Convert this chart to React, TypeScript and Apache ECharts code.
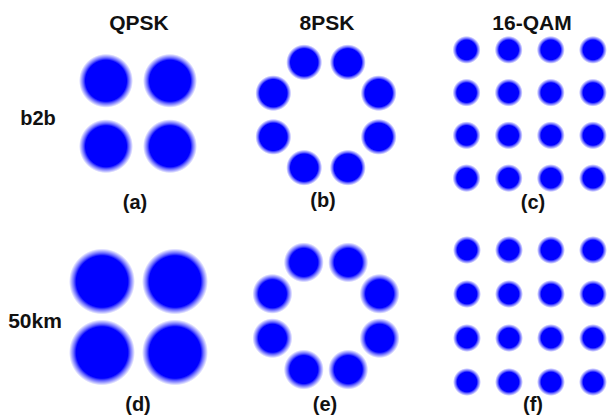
import React, { useEffect, useRef } from "react";
import * as echarts from "echarts";

// Constellation symbol positions (in-phase / quadrature)
const qpskPoints: [number, number][] = [
  [-1, 1], [1, 1], [-1, -1], [1, -1],
];
const psk8Points: [number, number][] = [
  [-0.383, 0.924], [0.383, 0.924], [0.924, 0.383], [0.924, -0.383],
  [0.383, -0.924], [-0.383, -0.924], [-0.924, -0.383], [-0.924, 0.383],
];
const qamLevels = [-3, -1, 1, 3];
const qam16Points: [number, number][] = qamLevels.flatMap((q) =>
  qamLevels.map((i) => [i, -q] as [number, number])
);

const formatTitles = ["QPSK", "8PSK", "16-QAM"];
const distanceLabels = ["b2b", "50km"];
const panelTags = ["(a)", "(b)", "(c)", "(d)", "(e)", "(f)"];

const BLUE = "#0000ff";
const FONT = "'Liberation Sans', Arial, sans-serif";

// Fuzzy cloud fill: dense core fading out to a sparse rim
const cloudFill = (core: number) => ({
  type: "radial",
  x: 0.5,
  y: 0.5,
  r: 0.5,
  colorStops: [
    { offset: 0, color: BLUE },
    { offset: core, color: BLUE },
    { offset: core + (1 - core) * 0.35, color: "rgba(0,0,255,0.6)" },
    { offset: 1, color: "rgba(0,0,255,0)" },
  ],
});

type Panel = {
  points: [number, number][];
  range: number;
  grid: { left: number; top: number; width: number; height: number };
  size: number;
  core: number;
};

const panels: Panel[] = [
  { points: qpskPoints, range: 2, grid: { left: 74, top: 48, width: 128, height: 131 }, size: 54, core: 0.76 },
  { points: psk8Points, range: 1.5, grid: { left: 240.5, top: 29.5, width: 171, height: 171 }, size: 36, core: 0.76 },
  { points: qam16Points, range: 4, grid: { left: 445.5, top: 28.5, width: 171, height: 171 }, size: 28, core: 0.7 },
  { points: qpskPoints, range: 2, grid: { left: 65.5, top: 246, width: 146, height: 142 }, size: 66, core: 0.78 },
  { points: psk8Points, range: 1.5, grid: { left: 239, top: 229, width: 174, height: 174 }, size: 40, core: 0.7 },
  { points: qam16Points, range: 4, grid: { left: 446, top: 228, width: 175, height: 176 }, size: 28, core: 0.7 },
];

const tagPos: [number, number][] = [
  [135, 202], [323, 200], [533, 202],
  [138, 404], [325, 404], [533, 404],
];

export default function App() {
  const ref = useRef<HTMLDivElement>(null);

  useEffect(() => {
    if (!ref.current) return;
    const chart = echarts.init(ref.current, undefined, { renderer: "svg" });

    const hiddenAxis = (range: number, gridIndex: number) => ({
      type: "value",
      gridIndex,
      min: -range,
      max: range,
      show: false,
    });

    const text = (t: string, x: number, y: number, size = 21) => ({
      type: "text",
      x,
      y,
      style: {
        text: t,
        fill: "#111",
        font: `bold ${size}px ${FONT}`,
        textAlign: "center",
        textVerticalAlign: "middle",
      },
    });

    const option = {
      animation: false,
      backgroundColor: "#ffffff",
      grid: panels.map((p) => ({ ...p.grid, containLabel: false })),
      xAxis: panels.map((p, i) => hiddenAxis(p.range, i)),
      yAxis: panels.map((p, i) => hiddenAxis(p.range, i)),
      series: panels.map((p, i) => ({
        type: "scatter",
        xAxisIndex: i,
        yAxisIndex: i,
        data: p.points,
        symbol: "circle",
        symbolSize: p.size,
        clip: false,
        silent: true,
        itemStyle: { color: cloudFill(p.core), opacity: 1 },
      })),
      graphic: [
        text(formatTitles[0], 139, 22),
        text(formatTitles[1], 327, 22),
        text(formatTitles[2], 532, 22),
        text(distanceLabels[0], 38, 118, 20),
        text(distanceLabels[1], 35, 320),
        ...panelTags.map((t, i) => text(t, tagPos[i][0], tagPos[i][1], 20)),
      ],
    };

    chart.setOption(option as any);
    return () => chart.dispose();
  }, []);

  return <div ref={ref} style={{ width: 614, height: 416, position: "absolute", left: 0, top: 0 }} />;
}
